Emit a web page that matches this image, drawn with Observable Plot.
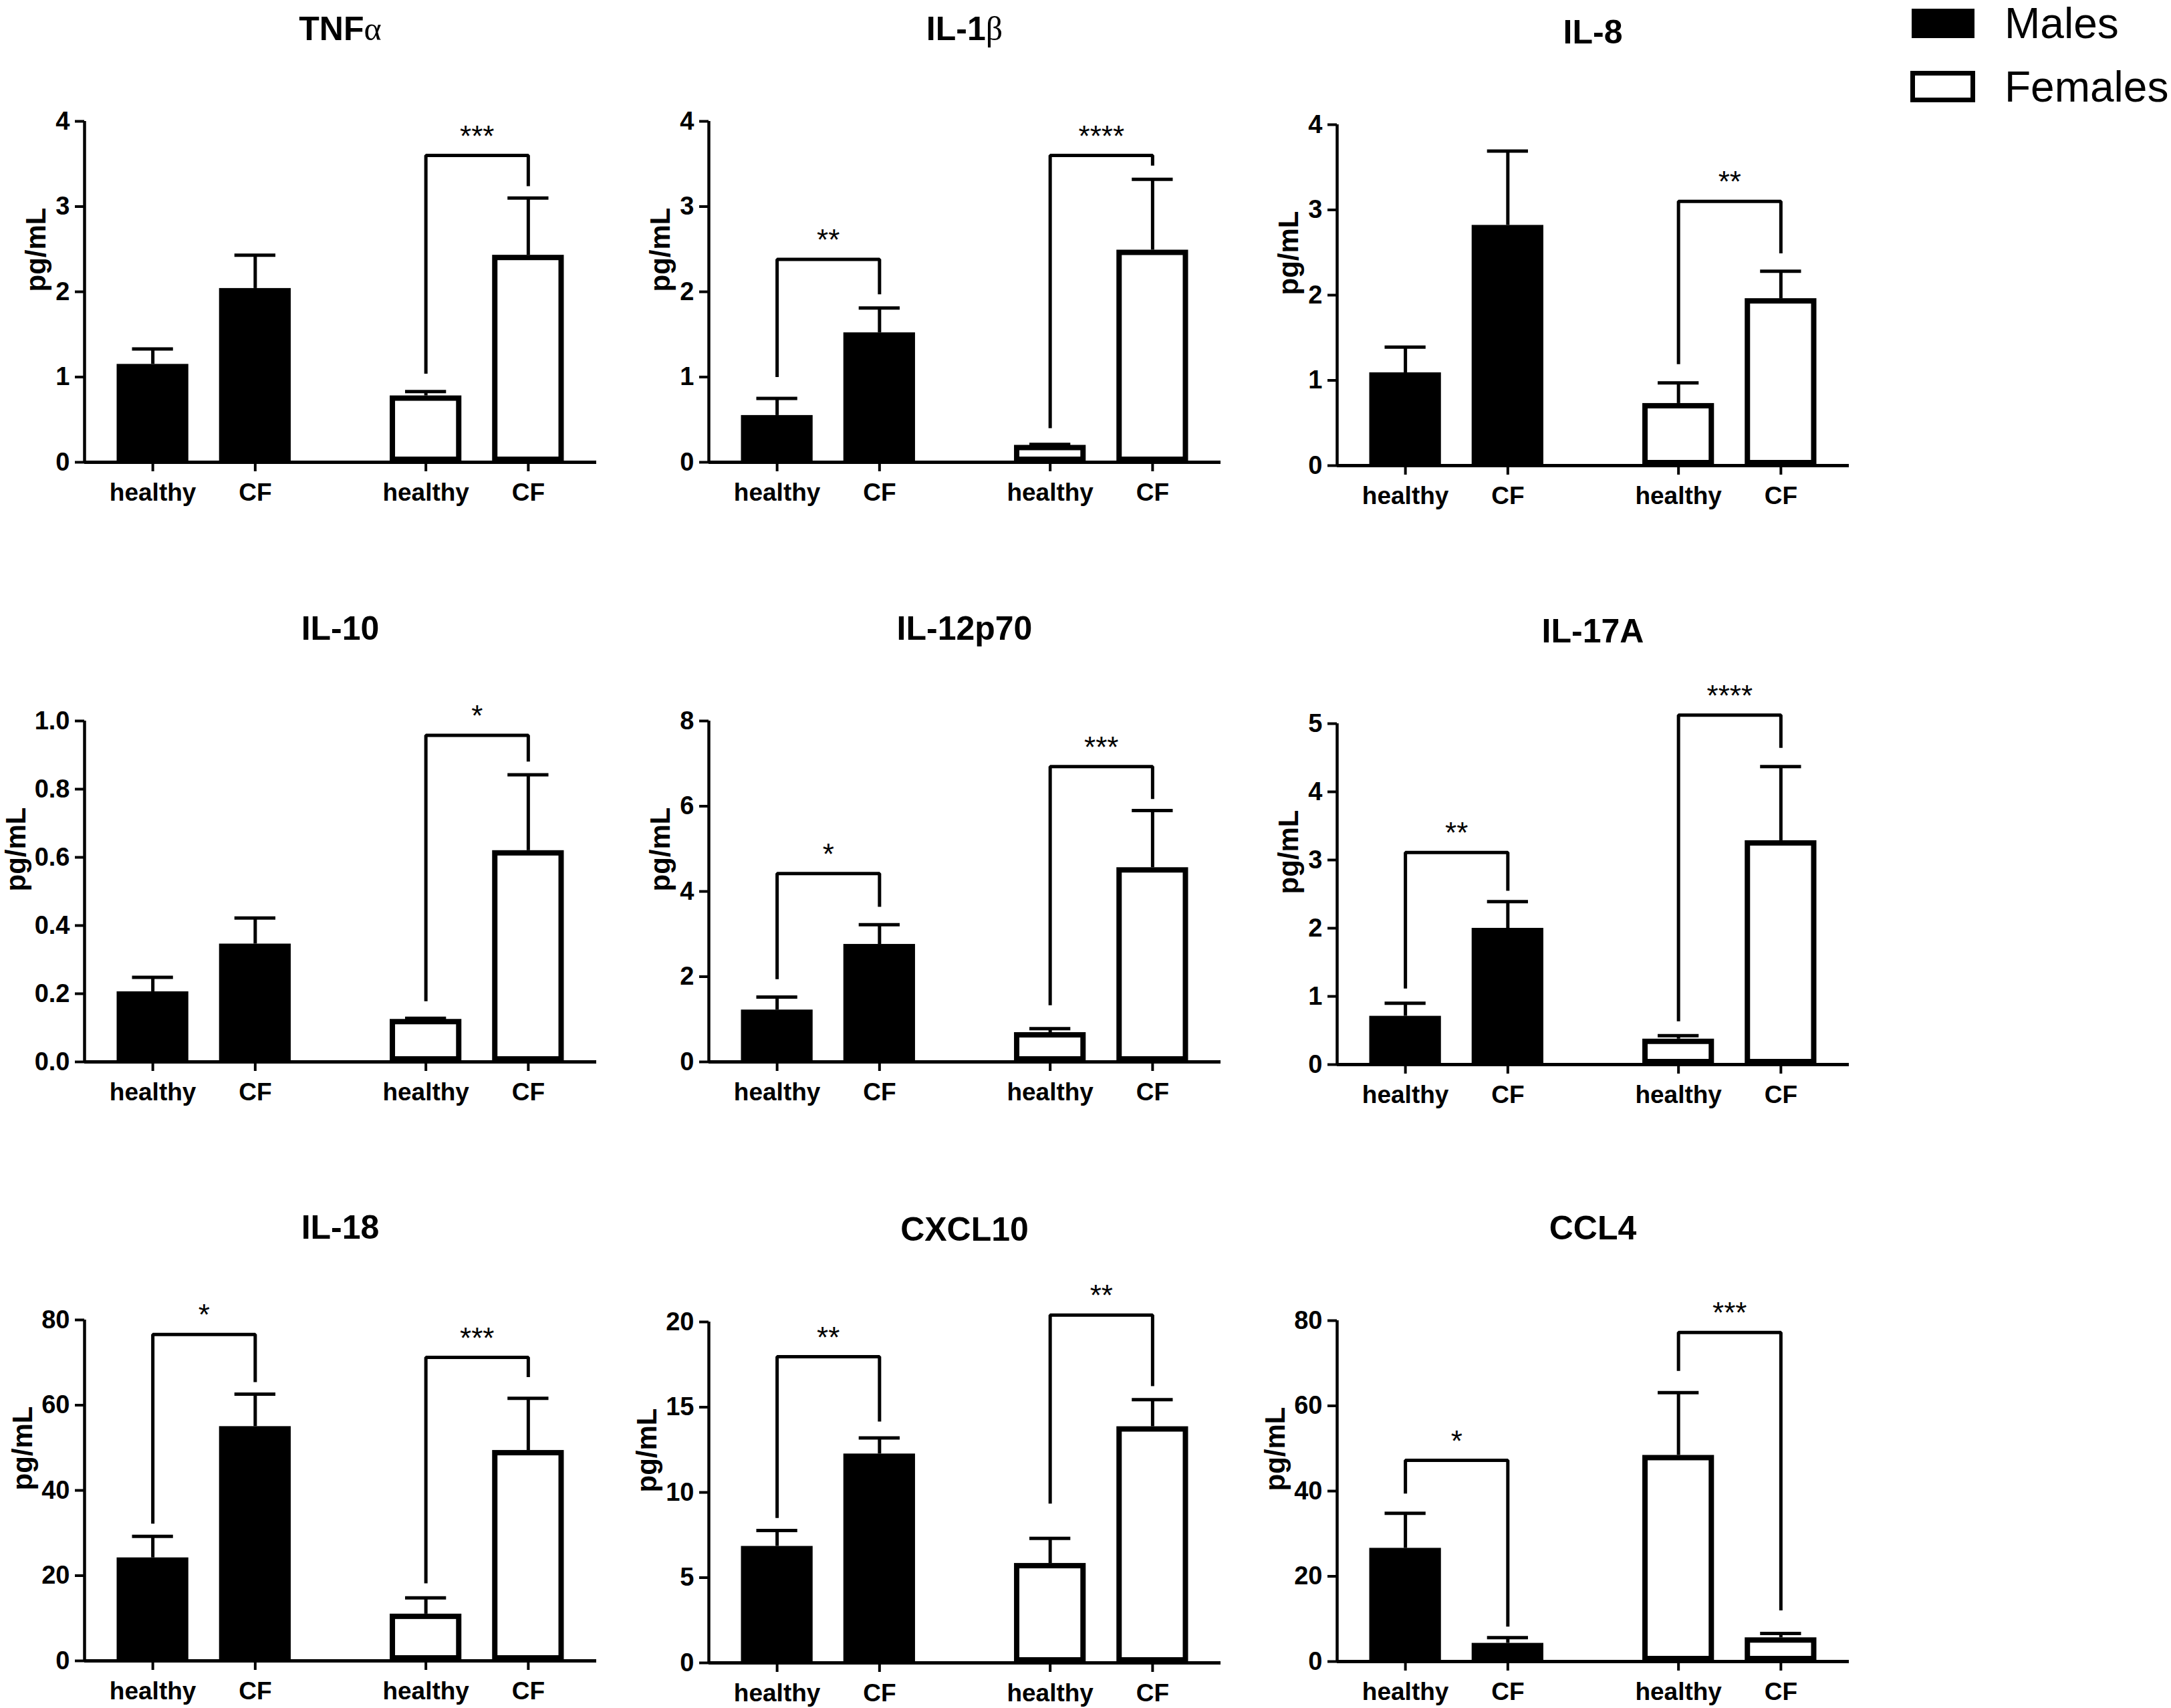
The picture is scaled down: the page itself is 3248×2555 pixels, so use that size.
<!DOCTYPE html>
<html>
<head>
<meta charset="utf-8">
<script src="https://cdn.jsdelivr.net/npm/d3@7"></script>
<script src="https://cdn.jsdelivr.net/npm/@observablehq/plot@0.6"></script>
<style>
  html, body { margin: 0; padding: 0; background: #fff; }
  #page { position: relative; width: 3248px; height: 2555px; overflow: hidden;
          font-family: "Liberation Sans", Arial, Helvetica, sans-serif; color: #000; background: #fff; }
  .panel { position: absolute; }
  .panel g[aria-label="y-axis tick label"], .panel g[aria-label="x-axis tick label"] { font-weight: bold; }
  .title { position: absolute; font-weight: bold; font-size: 50px; line-height: 1; white-space: nowrap;
           transform: translate(-50%, -50%); }
  .greek { font-family: "Liberation Serif", "DejaVu Serif", serif; font-weight: normal; }
  .legend-box { position: absolute; box-sizing: border-box; }
  .legend-text { position: absolute; font-size: 64px; line-height: 64px; font-weight: normal; white-space: nowrap; }
</style>
</head>
<body>
<div id="page"></div>
<script>
// ---------- data ----------
const cytokines = ["TNFα", "IL-1β", "IL-8", "IL-10", "IL-12p70", "IL-17A", "IL-18", "CXCL10", "CCL4"];
const sexes = ["Males", "Females"];
const conditions = ["healthy", "CF"];
const yMax = [4, 4, 4, 1.0, 8, 5, 80, 20, 80];
const yStep = [1, 1, 1, 0.2, 2, 1, 20, 5, 20];

// mean values, order: Males healthy, Males CF, Females healthy, Females CF
const meanValues = [
  [1.15, 2.04, 0.78, 2.43],
  [0.55, 1.52, 0.20, 2.49],
  [1.09, 2.82, 0.73, 1.96],
  [0.206, 0.346, 0.125, 0.62],
  [1.22, 2.76, 0.69, 4.56],
  [0.71, 2.00, 0.375, 3.285],
  [24.2, 55.0, 11.0, 49.4],
  [6.84, 12.26, 5.84, 13.86],
  [26.6, 4.3, 48.4, 5.6]
];
// top of the (upper) error bar: mean + SEM
const errorTops = [
  [1.33, 2.43, 0.83, 3.10],
  [0.75, 1.81, 0.21, 3.32],
  [1.39, 3.69, 0.97, 2.28],
  [0.248, 0.422, 0.128, 0.842],
  [1.52, 3.22, 0.78, 5.90],
  [0.90, 2.39, 0.425, 4.37],
  [29.2, 62.6, 14.8, 61.6],
  [7.76, 13.2, 7.3, 15.44],
  [34.8, 5.6, 63.1, 6.6]
];
// significance brackets: [cytokine, sex, bracket level, left leg end, right leg end, stars]
const brackets = [
  ["TNFα", "Females", 3.6, 1.04, 3.24, "***"],
  ["IL-1β", "Males", 2.38, 1.0, 1.97, "**"],
  ["IL-1β", "Females", 3.6, 0.4, 3.48, "****"],
  ["IL-8", "Females", 3.10, 1.19, 2.49, "**"],
  ["IL-10", "Females", 0.958, 0.178, 0.881, "*"],
  ["IL-12p70", "Males", 4.42, 1.94, 3.64, "*"],
  ["IL-12p70", "Females", 6.93, 1.33, 6.17, "***"],
  ["IL-17A", "Males", 3.11, 1.115, 2.55, "**"],
  ["IL-17A", "Females", 5.125, 0.635, 4.645, "****"],
  ["IL-18", "Males", 76.6, 32.2, 65.4, "*"],
  ["IL-18", "Females", 71.2, 18.2, 66.6, "***"],
  ["CXCL10", "Males", 17.96, 8.5, 14.16, "**"],
  ["CXCL10", "Females", 20.4, 9.34, 16.24, "**"],
  ["CCL4", "Males", 47.2, 39.4, 8.2, "*"],
  ["CCL4", "Females", 77.2, 68.2, 12.0, "***"]
];
const yLabel = "pg/mL";

// ---------- layout ----------
const W = 766, H = 510, mL = 140, mR = 14, mT = 90, mB = 80;
const axisXs = [126, 1060, 2000];
const topYs = [[181, 181, 186], [1078, 1078, 1082], [1974, 1977, 1975]];
const groupStart = {Males: 2 / 3, Females: 10 / 3};
const halfBar = 0.35, halfCap = 0.2;
const FONT = '"Liberation Sans", Arial, Helvetica, sans-serif';

const page = document.getElementById("page");

cytokines.forEach((name, i) => {
  const row = Math.floor(i / 3), col = i % 3;
  const ax = axisXs[col], top = topYs[row][col];

  const bars = [];
  sexes.forEach((sex, s) => conditions.forEach((cond, c) => {
    const k = s * 2 + c;
    bars.push({sex, cond, x: groupStart[sex] + c, mean: meanValues[i][k], err: errorTops[i][k]});
  }));
  const males = bars.filter(d => d.sex === "Males");
  const females = bars.filter(d => d.sex === "Females");

  const br = brackets.filter(b => b[0] === name).map(b => ({
    sex: b[1], level: b[2], left: b[3], right: b[4], stars: b[5],
    xh: groupStart[b[1]], xc: groupStart[b[1]] + 1
  }));
  const brPts = br.flatMap((b, j) => [
    {id: j, x: b.xh, y: b.left}, {id: j, x: b.xh, y: b.level},
    {id: j, x: b.xc, y: b.level}, {id: j, x: b.xc, y: b.right}
  ]);

  const yTicks = d3.range(0, yMax[i] + yStep[i] / 2, yStep[i]);
  const fmt = yStep[i] < 1 ? d3.format(".1f") : d3.format("d");
  const maxLen = d3.max(yTicks, t => fmt(t).length);
  const labelOffset = maxLen === 1 ? 72 : maxLen === 2 ? 92 : 102;

  const xTicks = bars.map(d => d.x);
  const xTickLabel = new Map(bars.map(d => [d.x, d.cond]));

  const chart = Plot.plot({
    width: mL + W + mR, height: mT + H + mB,
    marginLeft: mL, marginRight: mR, marginTop: mT, marginBottom: mB,
    x: {type: "linear", domain: [0, 5], axis: null},
    y: {domain: [0, yMax[i]], axis: null},
    style: {fontFamily: FONT, background: "white", overflow: "visible", color: "black"},
    marks: [
      Plot.rect(males, {x1: d => d.x - halfBar, x2: d => d.x + halfBar, y1: 0, y2: "mean", fill: "black"}),
      Plot.rect(females, {x1: d => d.x - halfBar, x2: d => d.x + halfBar, y1: 0, y2: "mean",
        fill: "white", stroke: "black", strokeWidth: 8, inset: 4}),
      Plot.ruleX(bars, {x: "x", y1: "mean", y2: "err", stroke: "black", strokeWidth: 5}),
      Plot.ruleY(bars, {y: "err", x1: d => d.x - halfCap, x2: d => d.x + halfCap, stroke: "black", strokeWidth: 5}),
      Plot.line(brPts, {x: "x", y: "y", z: "id", stroke: "black", strokeWidth: 5,
        strokeLinejoin: "miter", strokeLinecap: "butt"}),
      Plot.text(br, {x: d => (d.xh + d.xc) / 2, y: "level", text: "stars", dy: -28,
        fontSize: 44, fill: "black", lineAnchor: "middle"}),
      Plot.axisY({ticks: yTicks, tickFormat: fmt, tickSize: 14, tickPadding: 8, label: null,
        fontSize: 38, fontWeight: "bold", stroke: "black", strokeWidth: 4, fill: "black"}),
      Plot.axisX({ticks: xTicks, tickFormat: d => xTickLabel.get(d), tickSize: 14, tickPadding: 17, label: null,
        fontSize: 37, fontWeight: "bold", stroke: "black", strokeWidth: 4, fill: "black"}),
      Plot.ruleX([0], {y1: 0, y2: yMax[i], stroke: "black", strokeWidth: 4.5}),
      Plot.ruleY([0], {x1: 0, x2: 5, stroke: "black", strokeWidth: 5}),
      Plot.text([yLabel], {frameAnchor: "left", text: d => d, rotate: -90, dx: -labelOffset,
        fontSize: 42, fontWeight: "bold", fill: "black", lineAnchor: "middle"})
    ]
  });

  const div = document.createElement("div");
  div.className = "panel";
  div.style.left = (ax - mL) + "px";
  div.style.top = (top - mT) + "px";
  div.appendChild(chart);
  page.appendChild(div);

  const t = document.createElement("div");
  t.className = "title";
  t.style.left = (ax + W / 2) + "px";
  t.style.top = (top - 138) + "px";
  const m = name.match(/^(.*?)([αβ])$/);
  if (m) {
    t.appendChild(document.createTextNode(m[1]));
    const g = document.createElement("span");
    g.className = "greek";
    g.textContent = m[2];
    t.appendChild(g);
  } else {
    t.textContent = name;
  }
  page.appendChild(t);
});

// ---------- legend ----------
const legendItems = [
  {label: sexes[0], box: {left: 2860, top: 13, width: 94, height: 44}, fill: "black", border: 0, textTop: 3},
  {label: sexes[1], box: {left: 2858, top: 106, width: 97, height: 47}, fill: "white", border: 7, textTop: 98}
];
legendItems.forEach(it => {
  const b = document.createElement("div");
  b.className = "legend-box";
  Object.assign(b.style, {left: it.box.left + "px", top: it.box.top + "px", width: it.box.width + "px",
    height: it.box.height + "px", background: it.fill, border: it.border ? it.border + "px solid black" : "none"});
  page.appendChild(b);
  const tx = document.createElement("div");
  tx.className = "legend-text";
  tx.style.left = "2999px";
  tx.style.top = it.textTop + "px";
  tx.textContent = it.label;
  page.appendChild(tx);
});
</script>
</body>
</html>
